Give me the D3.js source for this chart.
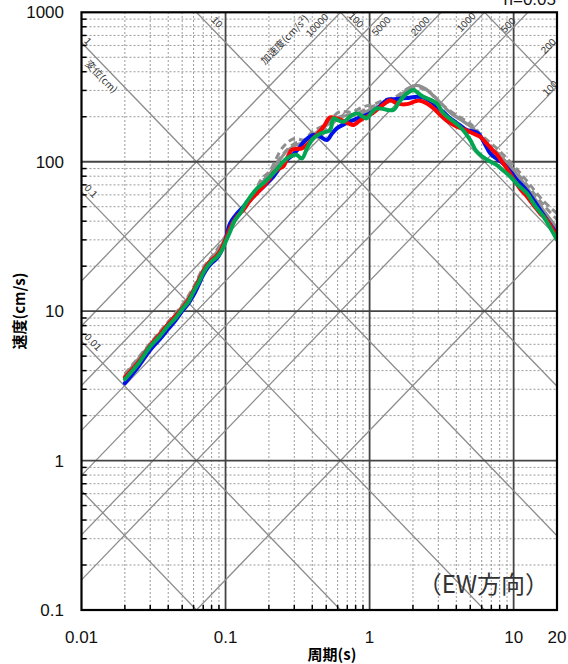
<!DOCTYPE html>
<html><head><meta charset="utf-8">
<script src="https://cdn.jsdelivr.net/npm/d3@7"></script>
<style>body{margin:0;background:#fff}svg{display:block}</style>
</head><body>
<script>
// ---------- data ----------
const xTicks = [0.01, 0.1, 1, 10, 20];
const xTickLabels = ["0.01", "0.1", "1", "10", "20"];
const yTicks = [0.1, 1, 10, 100, 1000];
const yTickLabels = ["0.1", "1", "10", "100", "1000"];
const dispValues = [0.001, 0.01, 0.1, 1, 10, 100, 1000];          // cm
const accValues = [10, 100, 200, 500, 1000, 2000, 5000, 10000];   // cm/s2
const dispLabels = [["10",0.0873,861],["100",0.806,888],["1",0.01109,642],["0.1",0.01164,63.7],["0.01",0.01202,6.2]];
const dispTitle = ["変位(cm)",0.01388,374.8];
const accLabels = [["10000",0.4318,822],["5000",1.202,810],["2000",2.243,810],["1000",4.68,861],["500",9.16,822],["200",17.4,595],["100",17.9,311]];
const accTitle = ["加速度(cm/s²)",0.2547,662];

const blueSeries = [[0.02,3.3],[0.025,4.3],[0.03,5.5],[0.035,6.5],[0.04,7.6],[0.045,8.7],[0.05,10.0],[0.055,11.2],[0.06,12.8],[0.065,15],[0.07,17.5],[0.075,19.5],[0.08,21],[0.087,22.5],[0.093,25],[0.1,30],[0.1075,38.7],[0.12,45],[0.133,50],[0.148,55.4],[0.165,62],[0.183,68],[0.2,74],[0.2147,79.4],[0.24,92],[0.266,102.6],[0.29,110],[0.32,122],[0.36,140],[0.407,151],[0.45,148],[0.505,139.7],[0.55,155],[0.592,167],[0.68,180],[0.772,190],[0.88,200],[1.008,211],[1.15,230],[1.316,259],[1.5,262],[1.717,266],[1.9,268],[2.127,272],[2.4,268],[2.63,255],[2.9,235],[3.254,215],[3.63,195],[4.25,175],[4.73,163],[5.55,157],[5.85,150],[6.3,132],[6.87,114],[7.5,106],[8.05,101],[8.49,97],[9.5,86],[10.5,76],[12.35,64],[14,54],[15.3,47.5],[17,41],[20,33]];
const redSeries = [[0.02,3.6],[0.025,4.6],[0.03,5.9],[0.035,7.0],[0.04,8.2],[0.045,9.3],[0.05,10.5],[0.055,11.8],[0.06,13.8],[0.065,16],[0.07,18.5],[0.075,20.5],[0.08,22],[0.087,23.5],[0.093,26],[0.1,30],[0.1075,36],[0.12,43],[0.133,47.5],[0.148,55],[0.165,61.5],[0.183,68],[0.2,76],[0.2147,84],[0.235,90],[0.252,93],[0.27,108],[0.288,120],[0.31,122],[0.339,123],[0.386,136],[0.428,151],[0.48,172],[0.532,198],[0.6,194],[0.658,188],[0.72,180],[0.772,176],[0.84,186],[0.906,195],[1.0,205],[1.12,222],[1.25,242],[1.388,258],[1.545,246],[1.75,242],[1.911,246],[2.1,255],[2.243,256],[2.5,245],[2.775,228],[3.1,205],[3.435,188],[4.0,172],[4.48,165],[5.2,155],[5.85,147],[6.5,132],[7.24,118],[7.65,112],[8.3,100],[8.97,90],[10.2,74],[11.2,65],[12.35,58.6],[14,50],[15.3,45],[17,40.8],[20,31.5]];
const greenSeries = [[0.02,3.5],[0.025,4.5],[0.03,5.8],[0.035,6.8],[0.04,8.0],[0.045,9.0],[0.05,10.3],[0.055,11.5],[0.06,13.5],[0.065,15.5],[0.07,18],[0.075,20],[0.08,21.5],[0.087,23],[0.093,25],[0.1,29],[0.1075,34],[0.115,40],[0.126,45],[0.137,52],[0.148,58],[0.165,66],[0.183,71.7],[0.2,78],[0.2147,83.6],[0.24,95],[0.266,105.4],[0.29,110],[0.312,111],[0.339,105],[0.37,125],[0.407,143.5],[0.46,155],[0.532,163],[0.56,195],[0.6,190],[0.658,185],[0.73,200],[0.815,211],[0.9,200],[0.955,195],[1.03,212],[1.12,227.7],[1.25,225],[1.463,222],[1.6,250],[1.717,272],[1.85,290],[2.014,302],[2.2,285],[2.36,272],[2.6,262],[2.93,245],[3.25,211],[3.7,190],[4.25,171],[4.99,140],[5.5,118],[6.1,108],[6.8,101],[7.65,95],[8.5,87],[9.5,79.4],[10.7,70],[12.35,61.5],[14,51],[16.1,43],[18,36],[20,30]];
const graySolid = [[0.02,3.7],[0.03,6],[0.04,8.3],[0.05,10.8],[0.06,14],[0.07,19],[0.08,22.5],[0.09,26],[0.1,31],[0.11,38],[0.13,48],[0.15,58],[0.17,68],[0.2,82],[0.23,98],[0.26,115],[0.3,128],[0.35,135],[0.4,150],[0.5,175],[0.6,195],[0.7,205],[0.85,210],[1.0,222],[1.2,240],[1.5,262],[1.8,300],[2.0,322],[2.3,318],[2.7,285],[3.2,240],[3.8,205],[4.5,185],[5.5,160],[6.5,130],[8,110],[10,88],[12,70],[15,52],[20,36]];
const grayDashA = [[0.02,3.8],[0.03,6.1],[0.04,8.5],[0.05,11],[0.06,14.5],[0.07,19.5],[0.08,23],[0.09,27],[0.1,32],[0.12,44],[0.14,54],[0.16,64],[0.18,78],[0.2,85],[0.25,125],[0.3,143],[0.35,140],[0.4,158],[0.5,180],[0.62,216],[0.75,215],[0.9,233],[1.1,245],[1.25,259],[1.5,270],[1.8,305],[2.1,325],[2.4,310],[2.8,275],[3.3,235],[4,205],[5,180],[6,150],[7.5,125],[9,105],[11,85],[13,70],[16,55],[20,45]];
const grayDashB = [[0.02,3.6],[0.03,5.9],[0.04,8.2],[0.05,10.6],[0.06,13.8],[0.07,18.5],[0.08,22],[0.09,25.5],[0.1,30.5],[0.12,42],[0.14,52],[0.16,62],[0.18,74],[0.2,82],[0.25,112],[0.3,132],[0.35,138],[0.4,150],[0.5,168],[0.62,200],[0.75,205],[0.9,220],[1.1,238],[1.3,250],[1.6,268],[1.9,300],[2.2,312],[2.5,300],[2.9,262],[3.4,225],[4.1,198],[5,172],[6,142],[7.5,118],[9,98],[11,80],[13,66],[16.5,50],[20,41]];

// ---------- layout ----------
const W = 568, H = 664;
const svg = d3.select("body").append("svg").attr("width", W).attr("height", H);
const x = d3.scaleLog().domain([0.01, 20]).range([81.5, 557]);
const y = d3.scaleLog().domain([0.1, 1000]).range([610, 12.3]);
const [x0, x1] = x.range(), [y0, y1] = y.range();
const FONT = "'Liberation Sans', Arial, sans-serif";
const JFONT = "'Noto Sans CJK JP', 'Noto Sans', sans-serif";

svg.append("defs").append("clipPath").attr("id", "clip")
  .append("rect").attr("x", x0).attr("y", y1).attr("width", x1 - x0).attr("height", y0 - y1);

// grid
const g = svg.append("g");
const xMinor = [], yMinor = [];
[0.01, 0.1, 1, 10].forEach(d => { for (let k = 1; k <= 9; k++) { const v = +(k * d).toPrecision(3); if (v <= 20) xMinor.push([v, k === 1]); } });
[0.1, 1, 10, 100].forEach(d => { for (let k = 1; k <= 9; k++) yMinor.push([+(k * d).toPrecision(3), k === 1]); });
g.selectAll(".vx").data(xMinor.filter(d => !d[1] && d[0] < 20)).join("line")
  .attr("x1", d => x(d[0])).attr("x2", d => x(d[0])).attr("y1", y0).attr("y2", y1)
  .attr("stroke", "#9a9a9a").attr("stroke-width", 1).attr("stroke-dasharray", "2,2");
g.selectAll(".hy").data(yMinor.filter(d => !d[1])).join("line")
  .attr("y1", d => y(d[0])).attr("y2", d => y(d[0])).attr("x1", x0).attr("x2", x1)
  .attr("stroke", "#9a9a9a").attr("stroke-width", 1).attr("stroke-dasharray", "2,2");

// diagonal lines
const dg = svg.append("g").attr("clip-path", "url(#clip)");
const TT = [0.01, 20];
dispValues.forEach(D => {
  dg.append("line").attr("x1", x(TT[0])).attr("y1", y(2 * Math.PI * D / TT[0]))
    .attr("x2", x(TT[1])).attr("y2", y(2 * Math.PI * D / TT[1]))
    .attr("stroke", "#8c8c8c").attr("stroke-width", 1.3);
});
accValues.forEach(A => {
  dg.append("line").attr("x1", x(TT[0])).attr("y1", y(A * TT[0] / (2 * Math.PI)))
    .attr("x2", x(TT[1])).attr("y2", y(A * TT[1] / (2 * Math.PI)))
    .attr("stroke", "#8c8c8c").attr("stroke-width", 1.3);
});

// major grid
g.selectAll(".mx").data(xTicks.filter(v => v > 0.01 && v < 20)).join("line")
  .attr("x1", d => x(d)).attr("x2", d => x(d)).attr("y1", y0).attr("y2", y1)
  .attr("stroke", "#444").attr("stroke-width", 1.8);
svg.append("g").selectAll("line").data(yTicks.filter(v => v > 0.1 && v < 1000)).join("line")
  .attr("y1", d => y(d)).attr("y2", d => y(d)).attr("x1", x0).attr("x2", x1)
  .attr("stroke", "#444").attr("stroke-width", 1.8);

// diagonal labels
const ang = Math.atan((y0 - y1) / 4 / ((x1 - x0) / Math.log10(2000))) * 180 / Math.PI;
const lab = svg.append("g").attr("font-family", FONT).attr("font-size", 10).attr("fill", "#333");
dispLabels.concat([dispTitle]).forEach(d => {
  lab.append("text").attr("transform", `translate(${x(d[1])},${y(d[2])}) rotate(${ang})`)
    .attr("text-anchor", "middle").attr("dominant-baseline", "central")
    .attr("font-family", d[0].length > 4 ? JFONT : FONT).text(d[0]);
});
accLabels.concat([accTitle]).forEach(d => {
  lab.append("text").attr("transform", `translate(${x(d[1])},${y(d[2])}) rotate(${-ang})`)
    .attr("text-anchor", "middle").attr("dominant-baseline", "central")
    .attr("font-family", d[0].length > 5 ? JFONT : FONT).text(d[0]);
});

// series
const line = d3.line().x(d => x(d[0])).y(d => y(d[1])).curve(d3.curveCatmullRom.alpha(0.5));
const cg = svg.append("g").attr("clip-path", "url(#clip)").attr("fill", "none")
  .attr("stroke-linejoin", "round").attr("stroke-linecap", "round");
cg.append("path").datum(grayDashB).attr("d", line).attr("stroke", "#8f8f8f").attr("stroke-width", 3).attr("stroke-dasharray", "7,4").attr("stroke-linecap", "butt");
cg.append("path").datum(grayDashA).attr("d", line).attr("stroke", "#8f8f8f").attr("stroke-width", 3).attr("stroke-dasharray", "7,4").attr("stroke-linecap", "butt");
cg.append("path").datum(graySolid).attr("d", line).attr("stroke", "#8f8f8f").attr("stroke-width", 3);
cg.append("path").datum(blueSeries).attr("d", line).attr("stroke", "#0010e8").attr("stroke-width", 4);
cg.append("path").datum(redSeries).attr("d", line).attr("stroke", "#ff0000").attr("stroke-width", 4);
cg.append("path").datum(greenSeries).attr("d", line).attr("stroke", "#00a651").attr("stroke-width", 4);

// inward ticks
const tk = svg.append("g").attr("stroke", "#000").attr("stroke-width", 1.5);
tk.selectAll(".ty").data(yMinor.filter(d => !d[1])).join("line")
  .attr("x1", x0).attr("x2", x0 + 5).attr("y1", d => y(d[0])).attr("y2", d => y(d[0]));
tk.selectAll(".tx").data(xMinor.filter(d => !d[1] && d[0] < 20)).join("line")
  .attr("y1", y0).attr("y2", y0 - 5).attr("x1", d => x(d[0])).attr("x2", d => x(d[0]));

// frame
svg.append("rect").attr("x", x0).attr("y", y1).attr("width", x1 - x0).attr("height", y0 - y1)
  .attr("fill", "none").attr("stroke", "#000").attr("stroke-width", 2.2);

// tick labels
svg.append("g").selectAll("text").data(xTicks).join("text")
  .attr("x", d => x(d)).attr("y", 643).attr("text-anchor", "middle")
  .attr("font-family", FONT).attr("font-size", 17).attr("fill", "#111")
  .text((d, i) => xTickLabels[i]);
svg.append("g").selectAll("text").data(yTicks).join("text")
  .attr("x", 64).attr("y", d => y(d) + 6).attr("text-anchor", "end")
  .attr("font-family", FONT).attr("font-size", 17).attr("fill", "#111")
  .text((d, i) => yTickLabels[i]);

// titles
svg.append("text").attr("x", 332).attr("y", 660).attr("text-anchor", "middle")
  .attr("font-family", JFONT).attr("font-size", 15).attr("font-weight", "bold").text("周期(s)");
svg.append("text").attr("transform", "translate(25,311) rotate(-90)").attr("text-anchor", "middle")
  .attr("font-family", JFONT).attr("font-size", 15).attr("font-weight", "bold").text("速度(cm/s)");
svg.append("text").attr("x", 556).attr("y", 4.5).attr("text-anchor", "end")
  .attr("font-family", FONT).attr("font-size", 17).attr("fill", "#111").text("h=0.05");
svg.append("text").attr("x", 549).attr("y", 593).attr("text-anchor", "end")
  .attr("font-family", JFONT).attr("font-size", 24).attr("fill", "#333").text("（EW方向）");
</script>
</body></html>
